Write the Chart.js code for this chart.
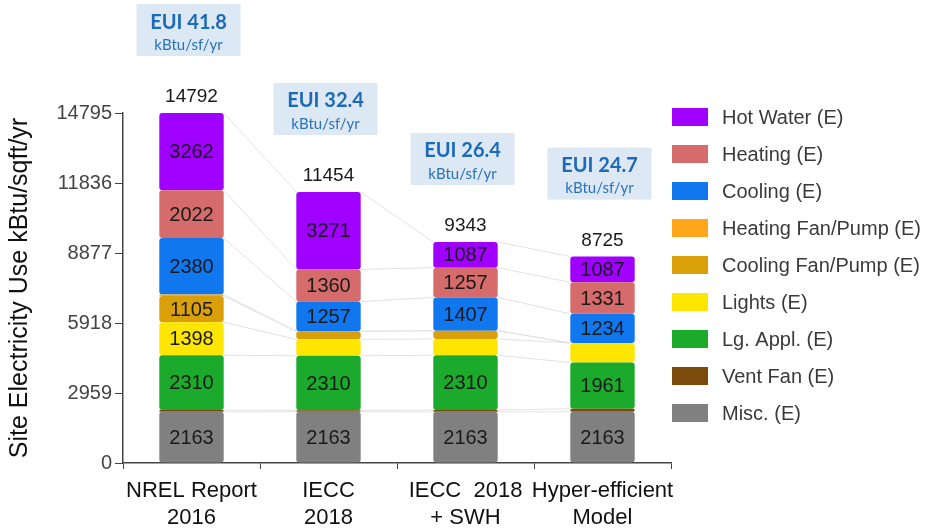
<!DOCTYPE html>
<html><head><meta charset="utf-8">
<script src="https://cdn.jsdelivr.net/npm/chart.js@4.4.1/dist/chart.umd.min.js"></script>
<style>html,body{margin:0;padding:0;background:#fff}#wrap{width:926px;height:531px;position:relative}</style>
</head><body><div id="wrap"><canvas id="c" width="926" height="531"></canvas></div>
<script>
// ---- data ----
const categories = [['NREL Report','2016'],['IECC','2018'],['IECC  2018','+ SWH'],['Hyper-efficient','Model']];
const yTicks = [0, 2959, 5918, 8877, 11836, 14795];
const totals = [14792, 11454, 9343, 8725];
const euiValues = ['41.8', '32.4', '26.4', '24.7'];
const euiUnit = 'kBtu/sf/yr';

const misc          = [2163, 2163, 2163, 2163];
const ventFan       = [80, 63, 79, 126];
const lgAppl        = [2310, 2310, 2310, 1961];
const lights        = [1398, 690, 690, 823];
const coolingFan    = [1105, 340, 350, 0];
const heatingFan    = [72, 0, 0, 0];
const cooling       = [2380, 1257, 1407, 1234];
const heating       = [2022, 1360, 1257, 1331];
const hotWater      = [3262, 3271, 1087, 1087];

const seriesNames = ['Misc. (E)','Vent Fan (E)','Lg. Appl. (E)','Lights (E)','Cooling Fan/Pump (E)','Heating Fan/Pump (E)','Cooling (E)','Heating (E)','Hot Water (E)'];
const seriesValues = [misc, ventFan, lgAppl, lights, coolingFan, heatingFan, cooling, heating, hotWater];
// ---- styles ----
const seriesColors = ['#808080','#7B4B0B','#1BAA2B','#FFE600','#D9A00A','#FFA61A','#1177EE','#D56B6B','#9F00FF'];
const FONT = "'Liberation Sans', Arial, sans-serif";
const LABEL_MIN = 1000;

const datasets = seriesNames.map((n, i) => ({
  label: n,
  data: seriesValues[i],
  backgroundColor: seriesColors[i],
  borderWidth: 0,
  borderSkipped: false,
  borderRadius: {topLeft: 3, topRight: 3, bottomLeft: 3, bottomRight: 3},
  barPercentage: 0.47,
  categoryPercentage: 1
}));

const extras = {
  id: 'extras',
  beforeDatasetsDraw(chart) {
    const ctx = chart.ctx;
    ctx.save();
    ctx.strokeStyle = '#e2e2e2';
    ctx.lineWidth = 1;
    chart.data.datasets.forEach((ds, d) => {
      const els = chart.getDatasetMeta(d).data;
      for (let i = 0; i < els.length - 1; i++) {
        const a = els[i], b = els[i + 1];
        ctx.beginPath();
        ctx.moveTo(a.x + a.width / 2, a.y);
        ctx.lineTo(b.x - b.width / 2, b.y);
        ctx.stroke();
      }
    });
    ctx.restore();
  },
  afterDatasetsDraw(chart) {
    const ctx = chart.ctx;
    const y = chart.scales.y;
    ctx.save();
    ctx.textAlign = 'center';
    ctx.textBaseline = 'middle';
    ctx.font = '20px ' + FONT;
    ctx.fillStyle = '#1a1a1a';
    chart.data.datasets.forEach((ds, d) => {
      chart.getDatasetMeta(d).data.forEach((el, i) => {
        const v = ds.data[i];
        if (v >= LABEL_MIN) ctx.fillText(String(v), el.x, (el.y + el.base) / 2 + 1);
      });
    });
    const meta0 = chart.getDatasetMeta(0).data;
    totals.forEach((t, i) => {
      const x = meta0[i].x;
      const top = y.getPixelForValue(t);
      ctx.font = '19px ' + FONT;
      ctx.fillStyle = '#1a1a1a';
      ctx.fillText(String(t), x, top - 16);
      const bw = 104, bh = 52;
      const bTop = top - 57 - bh;
      const cx = x - 3;
      ctx.fillStyle = '#DCE8F4';
      ctx.fillRect(cx - bw / 2, bTop, bw, bh);
      ctx.fillStyle = '#1C6AB8';
      ctx.font = "bold 20px Lato, 'Open Sans', sans-serif";
      ctx.fillText('EUI ' + euiValues[i], cx, bTop + 18);
      ctx.fillStyle = '#2A72BC';
      ctx.font = "15px Lato, 'Open Sans', sans-serif";
      ctx.fillText(euiUnit, cx, bTop + 41);
    });
    ctx.restore();
  },
  afterDraw(chart) {
    const ctx = chart.ctx;
    ctx.save();
    const ds = chart.data.datasets.slice().reverse();
    ctx.textAlign = 'left';
    ctx.textBaseline = 'middle';
    ctx.font = '20px ' + FONT;
    ds.forEach((d, i) => {
      const cy = 117 + 37 * i;
      ctx.fillStyle = d.backgroundColor;
      ctx.fillRect(672, cy - 9, 36, 18);
      ctx.fillStyle = '#3a3a3a';
      ctx.fillText(d.label, 722, cy + 1);
    });
    ctx.restore();
  }
};

new Chart(document.getElementById('c'), {
  type: 'bar',
  data: { labels: categories, datasets },
  options: {
    responsive: false,
    animation: false,
    devicePixelRatio: 1,
    layout: { padding: { top: 113, right: 255, bottom: 0, left: 0 } },
    plugins: { legend: { display: false }, tooltip: { enabled: false } },
    scales: {
      x: {
        stacked: true,
        afterFit: (s) => { s.height = 68; },
        grid: { drawOnChartArea: false, offset: true, tickLength: 6, color: '#444' },
        border: { color: '#444', width: 1.5 },
        ticks: { font: { family: FONT, size: 22 }, color: '#111', padding: 9, maxRotation: 0, autoSkip: false }
      },
      y: {
        stacked: true,
        min: 0,
        max: 14795,
        afterFit: (s) => { s.width = 123; },
        afterBuildTicks: (scale) => { scale.ticks = yTicks.map(v => ({ value: v })); },
        grid: { drawOnChartArea: false, tickLength: 8, color: '#444' },
        border: { color: '#444', width: 1.5 },
        ticks: { font: { family: FONT, size: 20 }, color: '#444', padding: 3, callback: (v) => String(v) },
        title: { display: true, text: 'Site Electricity Use kBtu/sqft/yr', font: { family: FONT, size: 25 }, color: '#111', padding: { top: 5, bottom: 20 } }
      }
    }
  },
  plugins: [extras]
});
</script></body></html>
